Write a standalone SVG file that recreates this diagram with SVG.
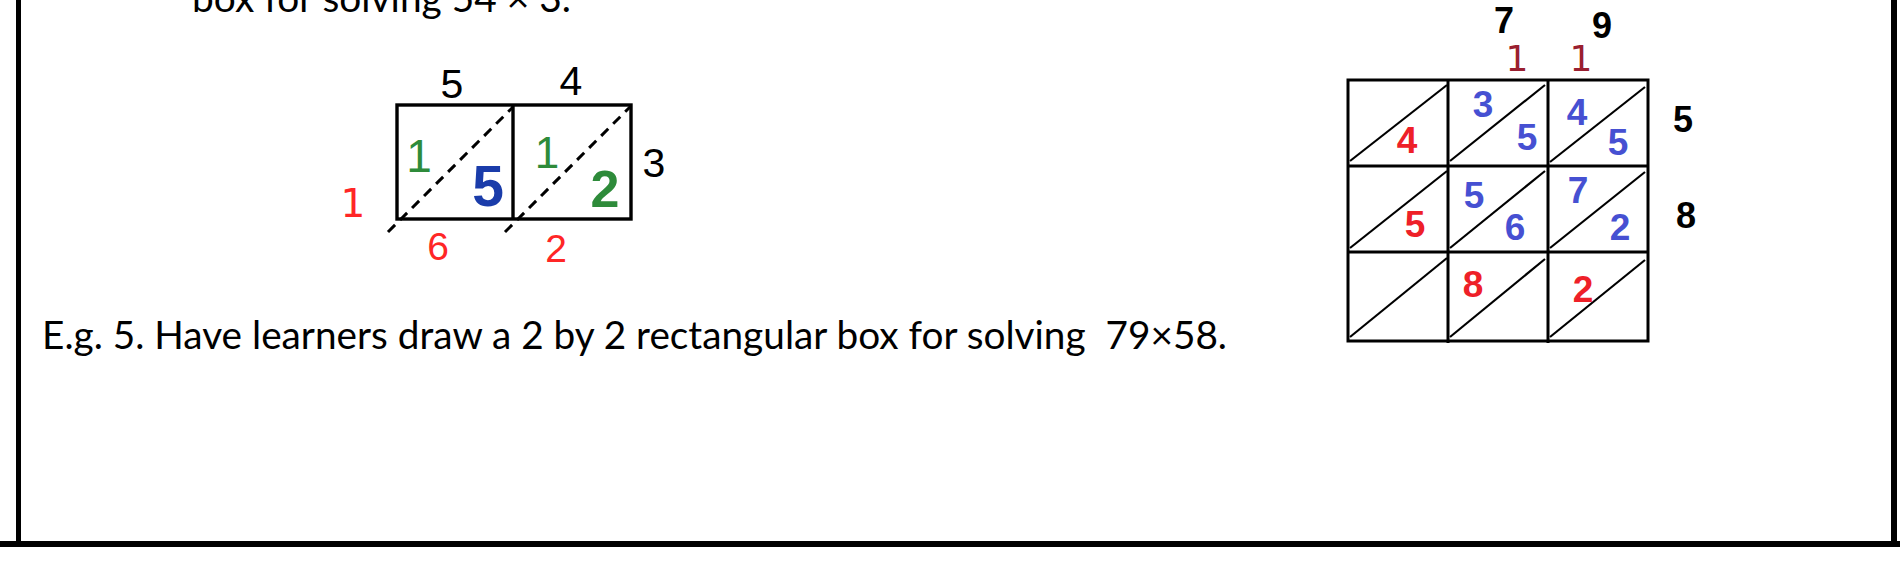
<svg xmlns="http://www.w3.org/2000/svg" width="1900" height="578" viewBox="0 0 1900 578">
<style>
.body{font-family:Lato,"Open Sans","Liberation Sans",sans-serif;font-size:38px;fill:#000}
.d{font-family:"Liberation Sans",Arial,sans-serif;text-anchor:middle}
.dv{font-family:"DejaVu Sans","Liberation Sans",sans-serif;text-anchor:middle}
.blk{fill:#000}
.red{fill:#ff2626}
.grn{fill:#2e8b3a}
.blu{fill:#1a3caa}
.rb{fill:#4650d2;font-weight:bold}
.rr{fill:#ee2028;font-weight:bold}
.dr{fill:#9a1f30}
.box{fill:none;stroke:#000;stroke-width:3.4}
.grid{fill:none;stroke:#000;stroke-width:3}
.dash{fill:none;stroke:#000;stroke-width:3;stroke-dasharray:10 7}
.diag{fill:none;stroke:#000;stroke-width:2.2}
</style>
<rect x="0" y="0" width="1900" height="578" fill="#fff"/>
<g id="frame">
<rect x="16" y="0" width="5" height="544" fill="#000"/>
<rect x="1891" y="0" width="6" height="544" fill="#000"/>
<rect x="0" y="541" width="1900" height="6" fill="#000"/>
</g>
<g id="top-text">
<text class="body" x="192" y="12" textLength="379" lengthAdjust="spacingAndGlyphs">box for solving 54 × 3.</text>
</g>
<g id="lattice-54x3">
<rect class="box" x="397" y="105" width="234" height="114"/>
<line class="box" x1="513" y1="105" x2="513" y2="219"/>
<line class="dash" x1="388" y1="232" x2="513" y2="107"/>
<line class="dash" x1="505" y1="232" x2="631" y2="106"/>
<text class="d blk" x="452" y="98" font-size="41">5</text>
<text class="d blk" x="571" y="95" font-size="41">4</text>
<text class="d blk" x="654" y="177" font-size="41">3</text>
<text class="dv red" x="353" y="217" font-size="39">1</text>
<text class="d red" x="438" y="260" font-size="39">6</text>
<text class="d red" x="556" y="262" font-size="39">2</text>
<text class="d grn" x="419" y="172" font-size="46">1</text>
<text class="d grn" x="547" y="168" font-size="44">1</text>
<text class="d blu" x="488" y="206" font-size="57" font-weight="bold">5</text>
<text class="d grn" x="605" y="207" font-size="52" font-weight="bold">2</text>
</g>
<g id="caption">
<text class="body" x="42" y="349" textLength="1185" lengthAdjust="spacingAndGlyphs" xml:space="preserve">E.g. 5. Have learners draw a 2 by 2 rectangular box for solving  79×58.</text>
</g>
<g id="lattice-79x58">
<rect class="grid" x="1348" y="80" width="300" height="261"/>
<line class="grid" x1="1448" y1="80" x2="1448" y2="343"/>
<line class="grid" x1="1548" y1="80" x2="1548" y2="343"/>
<line class="grid" x1="1348" y1="166" x2="1648" y2="166"/>
<line class="grid" x1="1348" y1="252" x2="1648" y2="252"/>
<line class="diag" x1="1350" y1="161" x2="1447" y2="85"/>
<line class="diag" x1="1450" y1="161" x2="1545" y2="85"/>
<line class="diag" x1="1550" y1="162" x2="1645" y2="87"/>
<line class="diag" x1="1350" y1="248" x2="1447" y2="171"/>
<line class="diag" x1="1450" y1="248" x2="1545" y2="171"/>
<line class="diag" x1="1550" y1="248" x2="1645" y2="172"/>
<line class="diag" x1="1350" y1="337" x2="1447" y2="258"/>
<line class="diag" x1="1450" y1="337" x2="1545" y2="259"/>
<line class="diag" x1="1550" y1="337" x2="1645" y2="260"/>
<text class="d blk" x="1504" y="33" font-size="36" font-weight="bold">7</text>
<text class="d blk" x="1602" y="38" font-size="36" font-weight="bold">9</text>
<text class="dv dr" x="1517" y="71" font-size="36">1</text>
<text class="dv dr" x="1581" y="71" font-size="36">1</text>
<text class="d blk" x="1683" y="132" font-size="36" font-weight="bold">5</text>
<text class="d blk" x="1686" y="228" font-size="36" font-weight="bold">8</text>
<text class="d rr" x="1407" y="153" font-size="37">4</text>
<text class="d rb" x="1483" y="117" font-size="37">3</text>
<text class="d rb" x="1527" y="150" font-size="37">5</text>
<text class="d rb" x="1577" y="125" font-size="37">4</text>
<text class="d rb" x="1618" y="155" font-size="37">5</text>
<text class="d rr" x="1415" y="237" font-size="37">5</text>
<text class="d rb" x="1474" y="208" font-size="37">5</text>
<text class="d rb" x="1515" y="240" font-size="37">6</text>
<text class="d rb" x="1578" y="203" font-size="37">7</text>
<text class="d rb" x="1620" y="240" font-size="37">2</text>
<text class="d rr" x="1473" y="297" font-size="37">8</text>
<text class="d rr" x="1583" y="302" font-size="37">2</text>
</g>
</svg>
